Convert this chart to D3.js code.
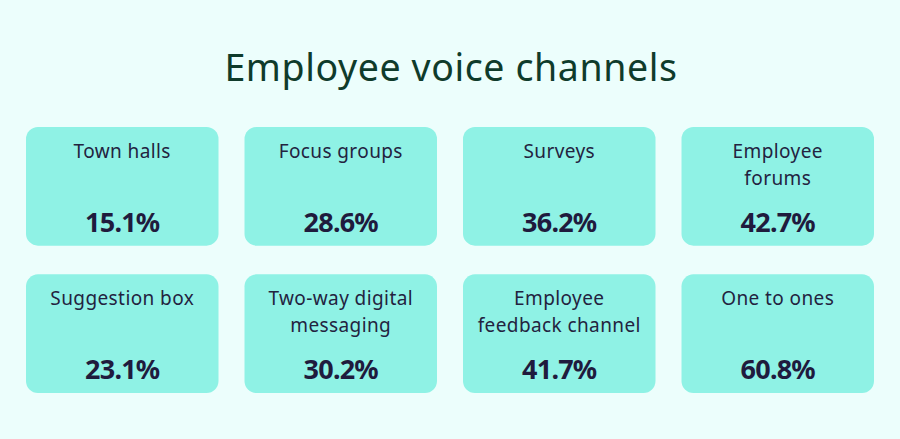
<!DOCTYPE html>
<html>
<head>
<meta charset="utf-8">
<script src="https://cdn.jsdelivr.net/npm/d3@7"></script>
<style>
  html, body { margin: 0; padding: 0; background: #ecfefc; }
  svg { display: block; }
  text { font-family: "Noto Sans", "Open Sans", sans-serif; }
</style>
</head>
<body>
<svg id="chart" width="900" height="439"></svg>
<script>
'use strict';

var title = 'Employee voice channels';
var channels = [
  ['Town halls'], ['Focus groups'], ['Surveys'], ['Employee', 'forums'],
  ['Suggestion box'], ['Two-way digital', 'messaging'], ['Employee', 'feedback channel'], ['One to ones']
];
var shares = [15.1, 28.6, 36.2, 42.7, 23.1, 30.2, 41.7, 60.8];
var cols = [0, 1, 2, 3];
var rows = [0, 1];

var W = 900, H = 439;
var svg = d3.select('#chart');

svg.append('rect').attr('width', W).attr('height', H).attr('fill', '#ecfefc');

svg.append('text')
  .attr('x', 451).attr('y', 81)
  .attr('text-anchor', 'middle')
  .attr('font-size', 37.5)
  .attr('letter-spacing', 0.6)
  .attr('fill', '#0f3b2b')
  .text(title);

// grid of cards
var x = d3.scaleBand().domain(cols).range([26, 874]).paddingInner(0.119);
var y = d3.scaleBand().domain(rows).range([127, 393]).paddingInner(0.195);

var data = shares.map(function(v, i){
  return {label: channels[i], value: v, col: i % 4, row: Math.floor(i / 4)};
});

var card = svg.selectAll('g.card').data(data).enter()
  .append('g').attr('class', 'card')
  .attr('transform', function(d){ return 'translate(' + x(d.col) + ',' + y(d.row) + ')'; });

card.append('rect')
  .attr('width', x.bandwidth()).attr('height', y.bandwidth())
  .attr('rx', 12).attr('ry', 12)
  .attr('fill', '#8ff2e5');

card.append('text')
  .attr('text-anchor', 'middle')
  .attr('font-size', 19)
  .attr('letter-spacing', 0.4)
  .attr('fill', '#23233f')
  .selectAll('tspan').data(function(d){ return d.label; }).enter()
  .append('tspan')
  .attr('x', x.bandwidth() / 2)
  .attr('y', function(l, i){ return 30.5 + i * 27; })
  .text(function(l){ return l; });

card.append('text')
  .attr('x', x.bandwidth() / 2).attr('y', 105)
  .attr('text-anchor', 'middle')
  .attr('font-size', 27).attr('font-weight', 700)
  .attr('letter-spacing', -0.8)
  .attr('fill', '#1f1b3d')
  .text(function(d){ return d.value.toFixed(1) + '%'; });
</script>
</body>
</html>
